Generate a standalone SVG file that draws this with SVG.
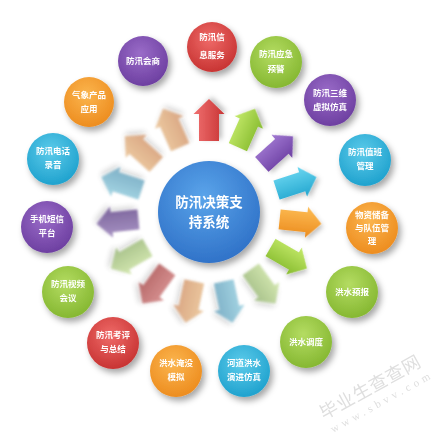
<svg xmlns="http://www.w3.org/2000/svg" width="442" height="440" viewBox="0 0 442 440">
<style>
.t{font-family:"Noto Sans CJK SC","Noto Sans",sans-serif;font-weight:bold;fill:#fff;text-anchor:middle}
.s{font-size:8.5px}
.c{font-size:13.5px}
.node{filter:url(#sh)}
.arr{filter:url(#sha)}
.fade{filter:url(#shf);opacity:0.85}
.wm{font-family:"Liberation Serif","Noto Sans CJK SC",serif;fill:#d4d4d4;opacity:0.75}
</style>
<defs>
<filter id="sh" x="-40%" y="-40%" width="190%" height="190%"><feDropShadow dx="3" dy="4" stdDeviation="3" flood-color="#000" flood-opacity="0.35"/></filter>
<filter id="sha" x="-40%" y="-40%" width="190%" height="190%"><feDropShadow dx="2" dy="3" stdDeviation="2.5" flood-color="#000" flood-opacity="0.25"/></filter>
<filter id="shf" x="-40%" y="-40%" width="190%" height="190%">
<feColorMatrix in="SourceGraphic" type="saturate" values="0.6" result="d"/>
<feGaussianBlur in="d" stdDeviation="0.8" result="b"/>
<feGaussianBlur in="SourceAlpha" stdDeviation="3" result="sb"/>
<feOffset in="sb" dx="2" dy="3" result="so"/>
<feComponentTransfer in="so" result="sf"><feFuncA type="linear" slope="0.22"/></feComponentTransfer>
<feMerge><feMergeNode in="sf"/><feMergeNode in="b"/></feMerge>
</filter>
<radialGradient id="gr" cx="0.45" cy="0.35" r="0.7"><stop offset="0" stop-color="#ef6a68"/><stop offset="1" stop-color="#c5302f"/></radialGradient>
<radialGradient id="gg" cx="0.45" cy="0.35" r="0.7"><stop offset="0" stop-color="#b4dc62"/><stop offset="1" stop-color="#82b52e"/></radialGradient>
<radialGradient id="gp" cx="0.45" cy="0.35" r="0.7"><stop offset="0" stop-color="#9a6cc8"/><stop offset="1" stop-color="#6a3c9e"/></radialGradient>
<radialGradient id="gc" cx="0.45" cy="0.35" r="0.7"><stop offset="0" stop-color="#5ccbea"/><stop offset="1" stop-color="#1b9fcc"/></radialGradient>
<radialGradient id="go" cx="0.45" cy="0.35" r="0.7"><stop offset="0" stop-color="#fbb54e"/><stop offset="1" stop-color="#ec8a1c"/></radialGradient>
<radialGradient id="gb" cx="0.45" cy="0.35" r="0.7"><stop offset="0" stop-color="#5aa4ea"/><stop offset="1" stop-color="#2d6fc6"/></radialGradient>
<linearGradient id="ar" x1="0" y1="0" x2="0" y2="1"><stop offset="0" stop-color="#f07070"/><stop offset="1" stop-color="#c83434"/></linearGradient>
<linearGradient id="ag" x1="0" y1="0" x2="0" y2="1"><stop offset="0" stop-color="#c4ea6a"/><stop offset="1" stop-color="#86bb2e"/></linearGradient>
<linearGradient id="ap" x1="0" y1="0" x2="0" y2="1"><stop offset="0" stop-color="#a179d2"/><stop offset="1" stop-color="#6c3fa2"/></linearGradient>
<linearGradient id="ac" x1="0" y1="0" x2="0" y2="1"><stop offset="0" stop-color="#6ad6f0"/><stop offset="1" stop-color="#22a6cf"/></linearGradient>
<linearGradient id="ao" x1="0" y1="0" x2="0" y2="1"><stop offset="0" stop-color="#fdbd55"/><stop offset="1" stop-color="#ec8c1e"/></linearGradient>
<path id="arrow" d="M-21,-10 L6,-10 L6,-15.5 L21,0 L6,15.5 L6,10 L-21,10 Z"/>
</defs>
<rect width="442" height="440" fill="#fff"/>

<g id="connectors">
<use href="#arrow" class="arr" fill="url(#ar)" transform="translate(209,120) rotate(270)"/>
<use href="#arrow" class="arr" fill="url(#ag)" transform="translate(246.4,128) rotate(294)"/>
<use href="#arrow" class="arr" fill="url(#ap)" transform="translate(277.4,150.4) rotate(318)"/>
<use href="#arrow" class="arr" fill="url(#ac)" transform="translate(296.5,183.6) rotate(342)"/>
<use href="#arrow" class="arr" fill="url(#ao)" transform="translate(300.5,221.6) rotate(6)"/>
<use href="#arrow" class="arr" fill="url(#ag)" transform="translate(288.7,258) rotate(30)"/>
<use href="#arrow" class="fade" fill="url(#ag)" transform="translate(263.1,286.4) rotate(54)"/>
<use href="#arrow" class="fade" fill="url(#ac)" transform="translate(228.1,302) rotate(78)"/>
<use href="#arrow" class="fade" fill="url(#ao)" transform="translate(189.9,302) rotate(102)"/>
<use href="#arrow" class="fade" fill="url(#ar)" transform="translate(154.9,286.4) rotate(126)"/>
<use href="#arrow" class="fade" fill="url(#ag)" transform="translate(129.3,258) rotate(150)"/>
<use href="#arrow" class="fade" fill="url(#ap)" transform="translate(117.5,221.6) rotate(174)"/>
<use href="#arrow" class="fade" fill="url(#ac)" transform="translate(121.5,183.6) rotate(198)"/>
<use href="#arrow" class="fade" fill="url(#ao)" transform="translate(140.6,150.4) rotate(222)"/>
<use href="#arrow" class="fade" fill="url(#ao)" transform="translate(171.6,128) rotate(246)"/>
</g>

<g id="center" class="node">
<circle cx="209" cy="212" r="51" fill="url(#gb)"/>
<text class="t c" x="209" y="207">防汛决策支</text>
<text class="t c" x="209" y="227">持系统</text>
</g>

<g id="n1" class="node"><circle cx="212" cy="47" r="25" fill="url(#gr)"/><text class="t s" x="212" y="40">防汛信</text><text class="t s" x="212" y="58">息服务</text></g>
<g id="n2" class="node"><circle cx="276" cy="62" r="26" fill="url(#gg)"/><text class="t s" x="276" y="57">防汛应急</text><text class="t s" x="276" y="72">预警</text></g>
<g id="n3" class="node"><circle cx="330" cy="100" r="26" fill="url(#gp)"/><text class="t s" x="330" y="96">防汛三维</text><text class="t s" x="330" y="110">虚拟仿真</text></g>
<g id="n4" class="node"><circle cx="365" cy="160" r="26" fill="url(#gc)"/><text class="t s" x="365" y="155">防汛值班</text><text class="t s" x="365" y="169">管理</text></g>
<g id="n5" class="node"><circle cx="372" cy="228" r="26" fill="url(#go)"/><text class="t s" x="372" y="218">物资储备</text><text class="t s" x="372" y="231">与队伍管</text><text class="t s" x="372" y="244">理</text></g>
<g id="n6" class="node"><circle cx="352" cy="292" r="26" fill="url(#gg)"/><text class="t s" x="352" y="295">洪水预报</text></g>
<g id="n7" class="node"><circle cx="306" cy="342" r="26" fill="url(#gg)"/><text class="t s" x="306" y="345">洪水调度</text></g>
<g id="n8" class="node"><circle cx="244" cy="371" r="26" fill="url(#gc)"/><text class="t s" x="244" y="366">河道洪水</text><text class="t s" x="244" y="380">演进仿真</text></g>
<g id="n9" class="node"><circle cx="176" cy="371" r="26" fill="url(#go)"/><text class="t s" x="176" y="366">洪水淹没</text><text class="t s" x="176" y="380">模拟</text></g>
<g id="n10" class="node"><circle cx="113" cy="343" r="26" fill="url(#gr)"/><text class="t s" x="113" y="338">防汛考评</text><text class="t s" x="113" y="352">与总结</text></g>
<g id="n11" class="node"><circle cx="68" cy="292" r="26" fill="url(#gg)"/><text class="t s" x="68" y="287">防汛视频</text><text class="t s" x="68" y="301">会议</text></g>
<g id="n12" class="node"><circle cx="47" cy="227" r="26" fill="url(#gp)"/><text class="t s" x="47" y="222">手机短信</text><text class="t s" x="47" y="236">平台</text></g>
<g id="n13" class="node"><circle cx="53" cy="159" r="26" fill="url(#gc)"/><text class="t s" x="53" y="154">防汛电话</text><text class="t s" x="53" y="168">录音</text></g>
<g id="n14" class="node"><circle cx="89" cy="102" r="25" fill="url(#go)"/><text class="t s" x="89" y="98">气象产品</text><text class="t s" x="89" y="112">应用</text></g>
<g id="n15" class="node"><circle cx="143" cy="61" r="25" fill="url(#gp)"/><text class="t s" x="143" y="64">防汛会商</text></g>

<g id="watermark">
<text class="wm" font-size="18" transform="translate(324,420) rotate(-29)" textLength="112">毕业生查查网</text>
<text class="wm" font-size="11" transform="translate(333,433) rotate(-29)" textLength="112">www.sbvv.com</text>
</g>
</svg>
